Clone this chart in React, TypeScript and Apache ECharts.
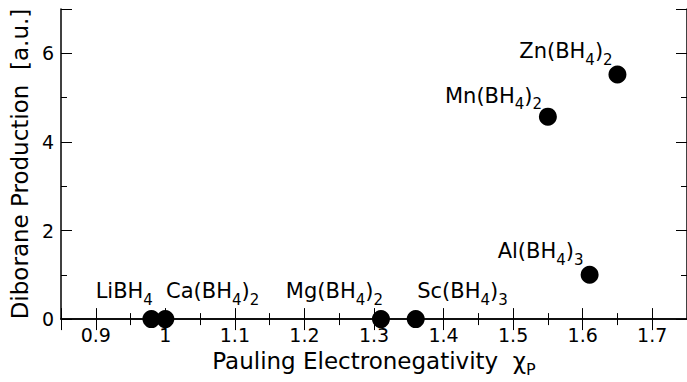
import React, { useEffect, useRef } from "react";
import * as echarts from "echarts";

// ---- data ----
const compounds = ["LiBH4", "Ca(BH4)2", "Mg(BH4)2", "Sc(BH4)3", "Al(BH4)3", "Mn(BH4)2", "Zn(BH4)2"];
const electronegativity = [0.98, 1.0, 1.31, 1.36, 1.61, 1.55, 1.65];
const diboraneProduction = [0, 0, 0, 0, 1.0, 4.57, 5.52];

const xTitle = "Pauling Electronegativity\u00a0\u00a0χ";
const xTitleSub = "P";
const yTitle = "Diborane Production\u00a0\u00a0[a.u.]";

// label placement (style config): [dx, dy, align] relative to the symbol box
const labelPlacement: [number, number, string][] = [
  [10.5, -29.8, "right"],
  [9.7, -29.8, "left"],
  [11, -29.8, "right"],
  [10.5, -29.8, "left"],
  [2.9, -25.5, "right"],
  [3.2, -22.6, "right"],
  [4.2, -24.6, "right"],
];

const FONT = '"DejaVu Sans", sans-serif';

function toRich(formula: string): string {
  // digits become subscript tokens
  return formula.replace(/(\d+)|([^\d]+)/g, (_m, d, t) => (d ? `{s|${d}}` : `{m|${t}}`));
}

export default function App() {
  const ref = useRef<HTMLDivElement>(null);
  useEffect(() => {
    if (!ref.current) return;
    const chart = echarts.init(ref.current, null, { renderer: "svg" });
    const axisLine = { show: true, lineStyle: { color: "#000", width: 1.5 } };
    const axisTick = { show: true, inside: true, length: 11, lineStyle: { color: "#000", width: 1 } };
    const minorTick = { show: true, splitNumber: 2, length: 6, lineStyle: { color: "#000", width: 1 } };
    const richLabel = {
      m: { fontSize: 21, lineHeight: 21, fontFamily: FONT, color: "#000", verticalAlign: "top" },
      s: { fontSize: 15, lineHeight: 38.6, fontFamily: FONT, color: "#000" },
    };
    const data = compounds.map((name, i) => {
      const [dx, dy, align] = labelPlacement[i];
      return {
        name,
        value: [electronegativity[i], diboraneProduction[i]],
        label: {
          show: true,
          position: [dx, dy],
          align,
          verticalAlign: "top",
          formatter: toRich(name),
          rich: richLabel,
        },
      };
    });
    chart.setOption({
      animation: false,
      grid: { left: 60, top: 9, right: -6, bottom: 56, containLabel: false },
      xAxis: [
        {
          type: "value",
          min: 0.85,
          max: 1.75,
          splitNumber: 9,
          position: "bottom",
          axisLine,
          axisTick,
          minorTick,
          splitLine: { show: false },
          axisLabel: {
            color: "#000",
            fontSize: 19,
            fontFamily: FONT,
            margin: 6,
            showMinLabel: false,
            showMaxLabel: false,
          },
          name: `{m|${xTitle}}{s|${xTitleSub}}`,
          nameLocation: "middle",
          nameGap: 27.5,
          nameTextStyle: {
            color: "#000",
            fontFamily: FONT,
            fontSize: 23,
            rich: {
              m: { fontSize: 23, lineHeight: 23, fontFamily: FONT, color: "#000", verticalAlign: "top" },
              s: { fontSize: 16, lineHeight: 40, fontFamily: FONT, color: "#000" },
            },
          },
        },
        {
          type: "value",
          min: 0.85,
          max: 1.75,
          splitNumber: 9,
          position: "top",
          axisLine,
          axisTick,
          minorTick,
          splitLine: { show: false },
          axisLabel: { show: false },
        },
      ],
      yAxis: [
        {
          type: "value",
          min: 0,
          max: 7,
          interval: 2,
          position: "left",
          axisLine,
          axisTick,
          minorTick,
          splitLine: { show: false },
          axisLabel: {
            color: "#000",
            fontSize: 19,
            fontFamily: FONT,
            margin: 7,
            showMaxLabel: false,
          },
          name: yTitle,
          nameLocation: "middle",
          nameGap: 25,
          nameTextStyle: { color: "#000", fontFamily: FONT, fontSize: 23 },
        },
        {
          type: "value",
          min: 0,
          max: 7,
          interval: 2,
          position: "right",
          axisLine,
          axisTick,
          minorTick,
          splitLine: { show: false },
          axisLabel: { show: false },
        },
      ],
      series: [
        {
          type: "scatter",
          xAxisIndex: 0,
          yAxisIndex: 0,
          symbol: "circle",
          symbolSize: 18,
          clip: false,
          itemStyle: { color: "#000", opacity: 1 },
          data,
          z: 5,
        },
      ],
    });
    return () => chart.dispose();
  }, []);
  return (
    <div
      ref={ref}
      style={{ position: "fixed", left: 0, top: 0, width: 687, height: 382, background: "#fff" }}
    />
  );
}
